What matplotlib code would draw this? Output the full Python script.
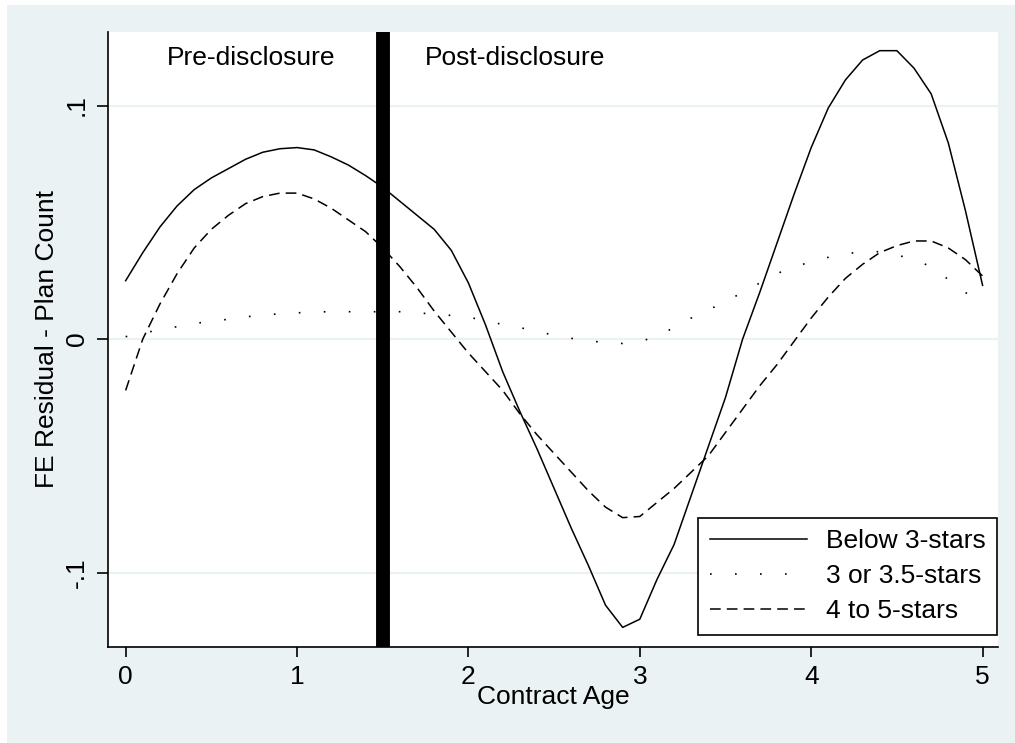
#!/usr/bin/env python3

"""FE residual of plan count by contract age, per star rating group."""

import matplotlib
matplotlib.use('Agg')
import matplotlib.pyplot as plt
from matplotlib.patches import Rectangle

STATA_BG = '#EAF2F3'

CONTRACT_AGE = [0.0, 0.1, 0.2, 0.3, 0.4, 0.5, 0.6, 0.7, 0.8, 0.9,
                1.0, 1.1, 1.2, 1.3, 1.4, 1.5, 1.6, 1.7, 1.8, 1.9,
                2.0, 2.1, 2.2, 2.3, 2.4, 2.5, 2.6, 2.7, 2.8, 2.9,
                3.0, 3.1, 3.2, 3.3, 3.4, 3.5, 3.6, 3.7, 3.8, 3.9,
                4.0, 4.1, 4.2, 4.3, 4.4, 4.5, 4.6, 4.7, 4.8, 4.9, 5.0]

BELOW_3 = [0.025, 0.037, 0.048, 0.057, 0.064, 0.069, 0.073, 0.077, 0.080, 0.0815,
           0.082, 0.081, 0.078, 0.0745, 0.070, 0.065, 0.059, 0.053, 0.047, 0.038,
           0.024, 0.006, -0.014, -0.031, -0.047, -0.064, -0.081, -0.097, -0.114, -0.1235,
           -0.120, -0.103, -0.088, -0.067, -0.046, -0.025, 0.000, 0.020, 0.041, 0.062,
           0.082, 0.099, 0.111, 0.1195, 0.1235, 0.1235, 0.116, 0.105, 0.084, 0.055, 0.023]

STARS_3_35 = [0.001, 0.0025, 0.004, 0.0053, 0.0067, 0.0075, 0.0085, 0.0095, 0.0103, 0.0108,
              0.0112, 0.0116, 0.0117, 0.0117, 0.0117, 0.0117, 0.0117, 0.0112, 0.0107, 0.0101,
              0.0095, 0.0076, 0.0063, 0.0049, 0.0033, 0.0016, 0.0003, -0.0008, -0.0015, -0.0019,
              -0.001, 0.001, 0.005, 0.009, 0.0125, 0.016, 0.020, 0.024, 0.028, 0.031,
              0.033, 0.035, 0.0365, 0.0374, 0.0374, 0.036, 0.034, 0.031, 0.0255, 0.020, 0.0138]

STARS_4_5 = [-0.022, 0.000, 0.015, 0.028, 0.039, 0.047, 0.053, 0.058, 0.061, 0.0625,
             0.0625, 0.060, 0.056, 0.051, 0.046, 0.039, 0.031, 0.022, 0.012, 0.003,
             -0.006, -0.014, -0.022, -0.032, -0.041, -0.049, -0.057, -0.065, -0.072, -0.0765,
             -0.076, -0.070, -0.064, -0.057, -0.050, -0.040, -0.030, -0.020, -0.011, -0.001,
             0.009, 0.018, 0.026, 0.032, 0.037, 0.040, 0.042, 0.042, 0.039, 0.034, 0.027]

SERIES_LABELS = ['Below 3-stars', '3 or 3.5-stars', '4 to 5-stars']
DISCLOSURE_AGE = 1.5
X_TICKS = [0, 1, 2, 3, 4, 5]
Y_TICKS = [-0.1, 0, 0.1]
Y_TICK_LABELS = ['-.1', '0', '.1']


def plot_graph(output_file):
  """
    Draw the three residual curves with the disclosure marker.
    """
  plt.rcParams['font.family'] = ['Liberation Sans', 'DejaVu Sans']
  plt.rc('font', size=19)

  fig = plt.figure(figsize=(10.15, 7.43), dpi=100, facecolor='white')
  fig.add_artist(Rectangle((7 / 1015, 0), 1, 1 - 5 / 743, transform=fig.transFigure,
                           facecolor=STATA_BG, edgecolor='none', zorder=-10))
  ax1 = fig.add_axes([108 / 1015, 96 / 743, 890 / 1015, 615 / 743])
  ax1.set_facecolor('white')

  ax1.plot(CONTRACT_AGE, BELOW_3, color='k', linewidth=1.1, linestyle='-',
           label=SERIES_LABELS[0], zorder=3)
  ax1.plot(CONTRACT_AGE, STARS_3_35, color='k', linewidth=1.2, linestyle=(0, (1, 14)),
           label=SERIES_LABELS[1], zorder=3)
  ax1.plot(CONTRACT_AGE, STARS_4_5, color='k', linewidth=1.1, linestyle=(0, (7, 4)),
           label=SERIES_LABELS[2], zorder=3)

  # disclosure marker
  ax1.axvline(x=DISCLOSURE_AGE, color='k', linewidth=10, zorder=4)

  ax1.text(0.734, 0.1203, 'Pre-disclosure', ha='center', va='center')
  ax1.text(2.274, 0.1203, 'Post-disclosure', ha='center', va='center')

  # Set Axes stuff
  ax1.set_xlim(-0.103, 5.09)
  ax1.set_ylim(-0.1319, 0.1315)
  ax1.set_xticks(X_TICKS)
  ax1.set_yticks(Y_TICKS)
  ax1.set_yticklabels(Y_TICK_LABELS, rotation=90, va='center')
  ax1.tick_params(axis='x', direction='out', length=7, width=1.2, pad=6)
  ax1.tick_params(axis='y', direction='out', length=8, width=1.2, pad=6)
  ax1.grid(which='major', axis='y', color=STATA_BG, linewidth=1.5)
  ax1.set_axisbelow(True)
  for side in ['top', 'right']:
    ax1.spines[side].set_visible(False)
  for side in ['left', 'bottom']:
    ax1.spines[side].set_linewidth(1.2)

  ax1.set_xlabel('Contract Age')
  ax1.xaxis.set_label_coords(0.5, -0.081)
  ax1.xaxis.label.set_va('center')
  ax1.set_ylabel('FE Residual - Plan Count')
  ax1.yaxis.set_label_coords(-0.0685, 0.5)
  ax1.yaxis.label.set_va('center')

  leg = ax1.legend(loc='lower right', bbox_to_anchor=(0.999, 0.0195), borderaxespad=0,
                   fancybox=False, framealpha=1, edgecolor='k', handlelength=3.7,
                   handletextpad=0.7, labelspacing=0.42, borderpad=0.44)
  leg.get_frame().set_linewidth(1.2)

  plt.savefig(fname=output_file, format='png', dpi=100)


def main():
  """
    This is the main loop
    """
  plot_graph('out.png')


if __name__ == "__main__":
  main()
